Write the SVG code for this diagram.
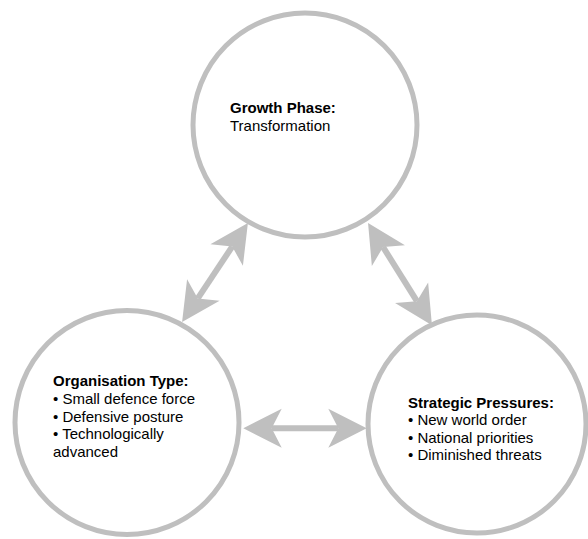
<svg xmlns="http://www.w3.org/2000/svg" width="588" height="539" viewBox="0 0 588 539">
<style>
.node{fill:#ffffff;stroke:#bfbfbf;stroke-width:5}
.conn{fill:none;stroke:#bfbfbf;stroke-width:6}
text{font-family:"Liberation Sans",Arial,sans-serif;font-size:15px;fill:#000000}
.b{font-weight:bold}
</style>
<defs>
<marker id="head" markerUnits="userSpaceOnUse" markerWidth="40" markerHeight="40" refX="10" refY="20" orient="auto-start-reverse" overflow="visible">
<path d="M0,0.5 L38.4,20 L0,39.5 L10,20 Z" fill="#bfbfbf"/>
</marker>
</defs>
<rect width="588" height="539" fill="#ffffff"/>
<g id="growth">
<circle class="node" cx="305" cy="125" r="112"/>
<text x="230" y="113"><tspan class="b">Growth Phase:</tspan><tspan x="230" y="131">Transformation</tspan></text>
</g>
<g id="organisation">
<circle class="node" cx="127" cy="422.5" r="112"/>
<text x="53" y="386"><tspan class="b">Organisation Type:</tspan><tspan x="53" y="404">• Small defence force</tspan><tspan x="53" y="421.6">• Defensive posture</tspan><tspan x="53" y="439.2">• Technologically</tspan><tspan x="53" y="456.8">advanced</tspan></text>
</g>
<g id="pressures">
<circle class="node" cx="477" cy="424" r="109"/>
<text x="408" y="407.5"><tspan class="b">Strategic Pressures:</tspan><tspan x="408" y="425.1">• New world order</tspan><tspan x="408" y="442.7">• National priorities</tspan><tspan x="408" y="460.3">• Diminished threats</tspan></text>
</g>
<g id="connectors">
<line class="conn" x1="232.2" y1="246.6" x2="197.8" y2="298.4" marker-start="url(#head)" marker-end="url(#head)"/>
<line class="conn" x1="383.1" y1="247.1" x2="416.9" y2="301.2" marker-start="url(#head)" marker-end="url(#head)"/>
<line class="conn" x1="271.7" y1="428.3" x2="338.3" y2="428.3" marker-start="url(#head)" marker-end="url(#head)"/>
</g>
</svg>
